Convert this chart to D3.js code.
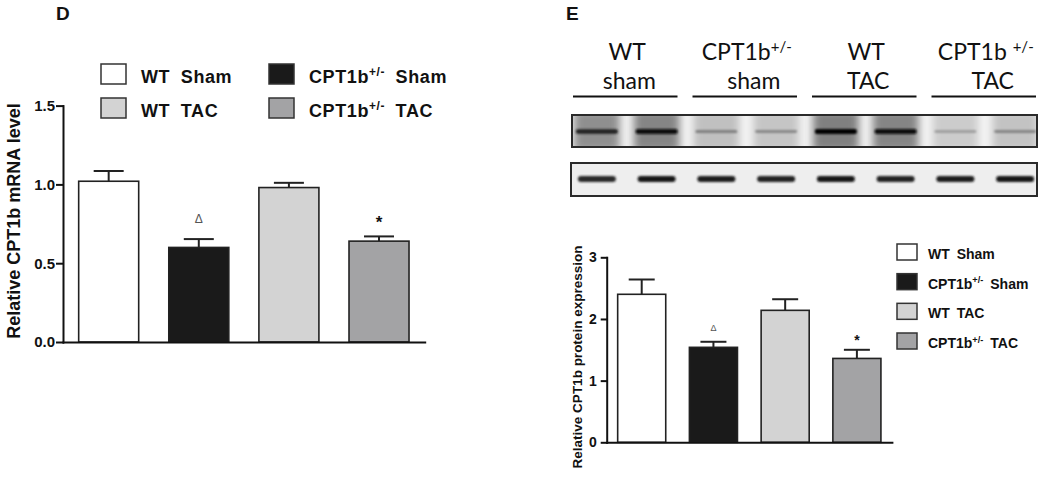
<!DOCTYPE html>
<html lang="en">
<head>
<meta charset="UTF-8"/>
<title>CPT1b mRNA and protein</title>
<script src="https://d3js.org/d3.v7.min.js"></script>
<style>
    body { margin: 0; background: #fff; }
    text { font-family: "Liberation Sans", Arial, sans-serif; fill: #111; }
    .head { font-family: Lato, "Open Sans", sans-serif; font-weight: 400; }
</style>
</head>
<body>
<svg width="1050" height="477"></svg>
<script>
// groups shared by both panels
var groups = ["WT Sham", "CPT1b+/- Sham", "WT TAC", "CPT1b+/- TAC"];
var fills = ["#ffffff", "#1a1a1a", "#d3d3d3", "#a3a3a5"];
var marks = ["", "\u0394", "", "*"];

// panel D - relative mRNA
var mrnaMean = [1.02, 0.60, 0.98, 0.64];
var mrnaSem = [0.065, 0.053, 0.03, 0.03];
var mrnaTicks = [0, 0.5, 1.0, 1.5];

// panel E - relative protein
var protMean = [2.40, 1.54, 2.14, 1.36];
var protSem = [0.24, 0.09, 0.18, 0.14];
var protTicks = [0, 1, 2, 3];

// blot: 8 lanes, two per group, band strengths 0..1
var blotHeads = [["WT", "sham", ""], ["CPT1b", "sham", "+/-"], ["WT", "TAC", ""], ["CPT1b ", "TAC", "+/-"]];
var laneGroup = [0, 0, 1, 1, 2, 2, 3, 3];
var cptBand = [0.85, 0.95, 0.35, 0.30, 1.0, 0.95, 0.22, 0.32];
var loadBand = [0.80, 0.92, 0.90, 0.86, 0.92, 0.86, 0.90, 0.92];

var svg = d3.select("svg");

// panel letters
svg.append("text").attr("x", 56).attr("y", 20).attr("font-size", 19).attr("font-weight", 700).text("D");
svg.append("text").attr("x", 566).attr("y", 20).attr("font-size", 19).attr("font-weight", 700).text("E");

function supLabel(sel, name, size) {
    // "CPT1b+/- Sham" -> CPT1b with raised +/-
    var parts = name.split("+/-");
    sel.append("tspan").text(parts[0]);
    if (parts.length > 1) {
        sel.append("tspan").attr("font-size", size * 0.66).attr("dy", -size * 0.38).text("+/-");
        sel.append("tspan").attr("dy", size * 0.38).text(parts[1]);
    }
}

function barPanel(cfg) {
    var x = d3.scaleBand().domain(d3.range(groups.length)).range(cfg.xr)
        .paddingInner(cfg.pi).paddingOuter(cfg.po);
    var y = d3.scaleLinear().domain(cfg.dom).range(cfg.yr);
    var g = svg.append("g");
    var bw = x.bandwidth();

    // error bars first so bar outline covers stem root
    var eb = g.selectAll(".err").data(cfg.mean).enter().append("g").attr("class", "err");
    eb.append("line")
        .attr("x1", function(d, i) { return x(i) + bw / 2; })
        .attr("x2", function(d, i) { return x(i) + bw / 2; })
        .attr("y1", function(d) { return y(d); })
        .attr("y2", function(d, i) { return y(d + cfg.sem[i]); })
        .attr("stroke", "#222").attr("stroke-width", 2);
    eb.append("line")
        .attr("x1", function(d, i) { return x(i) + bw / 2 - cfg.cap / 2; })
        .attr("x2", function(d, i) { return x(i) + bw / 2 + cfg.cap / 2; })
        .attr("y1", function(d, i) { return y(d + cfg.sem[i]); })
        .attr("y2", function(d, i) { return y(d + cfg.sem[i]); })
        .attr("stroke", "#222").attr("stroke-width", 2);

    g.selectAll(".bar").data(cfg.mean).enter().append("rect").attr("class", "bar")
        .attr("x", function(d, i) { return x(i); })
        .attr("y", function(d) { return y(d); })
        .attr("width", bw)
        .attr("height", function(d) { return y(0) - y(d); })
        .attr("fill", function(d, i) { return fills[i]; })
        .attr("stroke", "#222").attr("stroke-width", 1.6);

    // significance marks
    g.selectAll(".mark").data(cfg.mean).enter().append("text").attr("class", "mark")
        .attr("x", function(d, i) { return x(i) + bw / 2; })
        .attr("y", function(d, i) { return y(d + cfg.sem[i]) - (marks[i] == "*" ? cfg.starOff : cfg.triOff); })
        .attr("text-anchor", "middle")
        .attr("font-family", function(d, i) { return marks[i] == "*" ? "Liberation Sans" : "DejaVu Serif"; })
        .attr("font-weight", function(d, i) { return marks[i] == "*" ? 700 : 400; })
        .attr("font-size", function(d, i) { return marks[i] == "*" ? cfg.starSize : cfg.triSize; })
        .style("fill", function(d, i) { return marks[i] == "*" ? "#111" : "#555"; })
        .text(function(d, i) { return marks[i]; });

    var ya = g.append("g").attr("transform", "translate(" + cfg.xr[0] + ",0)")
        .call(d3.axisLeft(y).tickValues(cfg.ticks).tickSize(cfg.tick).tickSizeOuter(0)
            .tickPadding(cfg.pad).tickFormat(cfg.fmt));
    ya.selectAll("path, line").attr("stroke", "#111").attr("stroke-width", 2).attr("stroke-linecap", "square");
    ya.selectAll("text").attr("font-size", cfg.tf).attr("font-weight", 700)
        .attr("font-family", "Liberation Sans, Arial, sans-serif").attr("fill", "#111");

    var xa = g.append("g").attr("transform", "translate(0," + y(0) + ")")
        .call(d3.axisBottom(x).tickValues([]).tickSizeOuter(0));
    xa.select("path").attr("stroke", "#111").attr("stroke-width", 2).attr("stroke-linecap", "square");

    g.append("text")
        .attr("transform", "translate(" + cfg.lx + "," + cfg.ly + ") rotate(-90)")
        .attr("text-anchor", "middle").attr("font-size", cfg.lf).attr("font-weight", 700)
        .text(cfg.label);
}

barPanel({
    mean: mrnaMean, sem: mrnaSem, ticks: mrnaTicks, fmt: d3.format(".1f"),
    xr: [63, 424.7], pi: 0.334, po: 0.174, dom: [0, 1.5], yr: [342, 105.6],
    cap: 30, tick: 6, pad: 2, tf: 15, triOff: 16, triSize: 12, starOff: 8, starSize: 17,
    lx: 20, ly: 221, lf: 18, label: "Relative CPT1b mRNA level"
});

barPanel({
    mean: protMean, sem: protSem, ticks: protTicks, fmt: d3.format("d"),
    xr: [606.7, 891.9], pi: 0.33, po: 0.153, dom: [0, 3], yr: [442.3, 257.3],
    cap: 26, tick: 5, pad: 5, tf: 14, triOff: 11, triSize: 9, starOff: 5, starSize: 14,
    lx: 582, ly: 357, lf: 13.5, label: "Relative CPT1b protein expression"
});

// legend D: two columns
var legD = svg.append("g");
var ldCol = [101, 269], ldRow = [64, 98];
var ldItems = [0, 1, 2, 3].map(function(i) {
    return { i: i, x: ldCol[i % 2], y: ldRow[Math.floor(i / 2)] };
});
// order in the picture: WT Sham | CPT1b Sham / WT TAC | CPT1b TAC
var ld = legD.selectAll("g").data(ldItems).enter().append("g");
ld.append("rect").attr("x", function(d) { return d.x; }).attr("y", function(d) { return d.y; })
    .attr("width", 25).attr("height", 20)
    .attr("fill", function(d) { return fills[d.i]; }).attr("stroke", "#333").attr("stroke-width", 1.5);
ld.append("text").attr("x", function(d) { return d.x + 40; }).attr("y", function(d) { return d.y + 19; })
    .attr("font-size", 18).attr("font-weight", 700).attr("word-spacing", 5).attr("letter-spacing", 0.6)
    .each(function(d) { supLabel(d3.select(this), groups[d.i], 18); });

// legend E: one column
var leRow = d3.scalePoint().domain(d3.range(4)).range([244, 333]);
var le = svg.append("g").selectAll("g").data(groups).enter().append("g");
le.append("rect").attr("x", 897).attr("y", function(d, i) { return leRow(i); })
    .attr("width", 20).attr("height", 16)
    .attr("fill", function(d, i) { return fills[i]; }).attr("stroke", "#333").attr("stroke-width", 1.5);
le.append("text").attr("x", 928).attr("y", function(d, i) { return leRow(i) + 15; })
    .attr("font-size", 14).attr("font-weight", 700).attr("word-spacing", 3)
    .each(function(d) { supLabel(d3.select(this), d, 14); });

// western blot
var lane = d3.scaleBand().domain(d3.range(8)).range([567, 1045]);
var lw = lane.bandwidth();
var defs = svg.append("defs");
defs.append("filter").attr("id", "soft").attr("x", "-30%").attr("y", "-100%").attr("width", "160%").attr("height", "300%")
    .append("feGaussianBlur").attr("stdDeviation", 4);
defs.append("filter").attr("id", "band").attr("x", "-20%").attr("y", "-200%").attr("width", "140%").attr("height", "500%")
    .append("feGaussianBlur").attr("stdDeviation", 1.1);
defs.append("clipPath").attr("id", "clipTop").append("rect").attr("x", 572).attr("y", 115).attr("width", 465).attr("height", 32);
defs.append("clipPath").attr("id", "clipBot").append("rect").attr("x", 571).attr("y", 163).attr("width", 466).attr("height", 33);

// group headers and underlines
var hd = svg.append("g").selectAll("g").data(blotHeads).enter().append("g");
function grpX0(i) { return lane(i * 2) + 6; }
function grpX1(i) { return lane(i * 2 + 1) + lw - 9; }
hd.append("line").attr("x1", function(d, i) { return grpX0(i); }).attr("x2", function(d, i) { return grpX1(i); })
    .attr("y1", 96.5).attr("y2", 96.5).attr("stroke", "#111").attr("stroke-width", 2);
var h1 = hd.append("text").attr("class", "head").attr("text-anchor", "middle")
    .attr("x", function(d, i) { return (grpX0(i) + grpX1(i)) / 2 + 2; }).attr("y", 60).attr("font-size", 23);
h1.append("tspan").text(function(d) { return d[0]; });
h1.append("tspan").attr("font-size", 15).attr("dy", -8).text(function(d) { return d[2]; });
hd.append("text").attr("class", "head").attr("text-anchor", "middle")
    .attr("x", function(d, i) { return (grpX0(i) + grpX1(i)) / 2 + (i % 2 ? 9 : 4); }).attr("y", 89).attr("font-size", 23)
    .text(function(d) { return d[1]; });

// top blot (CPT1b)
var blotTop = svg.append("g").attr("clip-path", "url(#clipTop)");
blotTop.append("rect").attr("x", 572).attr("y", 115).attr("width", 465).attr("height", 32).attr("fill", "#f5f5f5");
blotTop.selectAll(".smear").data(cptBand).enter().append("rect").attr("class", "smear")
    .attr("x", function(d, i) { return lane(i) + lw / 2 - 23; }).attr("y", 110)
    .attr("width", 46).attr("height", 42).attr("filter", "url(#soft)")
    .attr("fill", function(d) { return d3.interpolateRgb("#e2e2e2", "#808080")(d); });
blotTop.selectAll(".bnd").data(cptBand).enter().append("rect").attr("class", "bnd")
    .attr("x", function(d, i) { return lane(i) + lw / 2 - 21; })
    .attr("y", function(d) { return 131.5 - (2 + 3 * d) / 2; })
    .attr("width", 42).attr("height", function(d) { return 2 + 3 * d; }).attr("rx", 2)
    .attr("filter", "url(#band)")
    .attr("fill", function(d) { return d3.interpolateRgb("#c0c0c0", "#050505")(d); });
svg.append("rect").attr("x", 572).attr("y", 115).attr("width", 465).attr("height", 32)
    .attr("fill", "none").attr("stroke", "#2a2a2a").attr("stroke-width", 2);

// bottom blot (loading control)
var blotBot = svg.append("g").attr("clip-path", "url(#clipBot)");
blotBot.append("rect").attr("x", 571).attr("y", 163).attr("width", 466).attr("height", 33).attr("fill", "#eeeeee");
blotBot.selectAll(".bnd").data(loadBand).enter().append("rect").attr("class", "bnd")
    .attr("x", function(d, i) { return lane(i) + lw / 2 - 19; }).attr("y", 176)
    .attr("width", 38).attr("height", 6).attr("rx", 3).attr("filter", "url(#band)")
    .attr("fill", function(d) { return d3.interpolateRgb("#bbbbbb", "#080808")(d); });
svg.append("rect").attr("x", 571).attr("y", 163).attr("width", 466).attr("height", 33)
    .attr("fill", "none").attr("stroke", "#2a2a2a").attr("stroke-width", 2);
</script>
</body>
</html>
